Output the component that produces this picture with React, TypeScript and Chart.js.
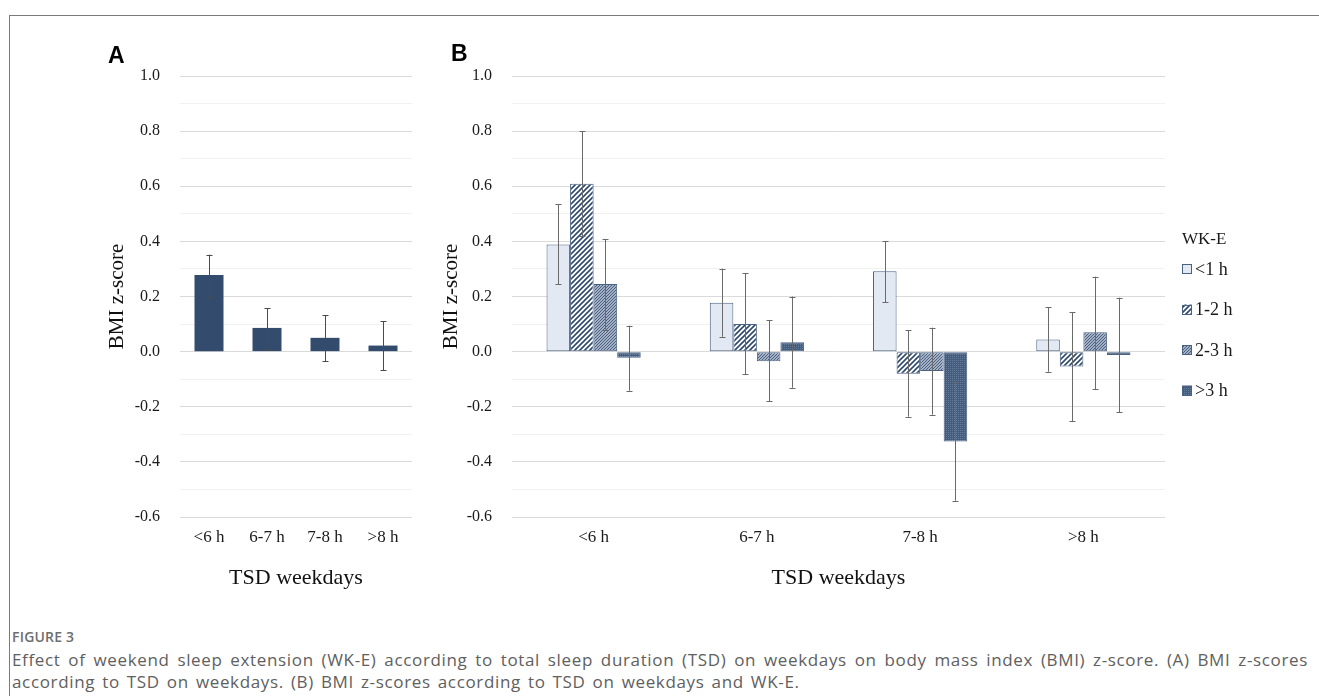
import React, { useEffect, useRef } from 'react';
import { Chart, registerables } from 'chart.js';

Chart.register(...registerables);

// ---------- data ----------
const categories = ['<6 h', '6-7 h', '7-8 h', '>8 h'];

const panelAValues = [0.278, 0.086, 0.05, 0.022];
const panelALow = [0.2, 0.01, -0.035, -0.068];
const panelAHigh = [0.352, 0.157, 0.132, 0.111];

const wkeLabels = ['<1 h', '1-2 h', '2-3 h', '>3 h'];

const wkeLt1Values = [0.389, 0.177, 0.292, 0.044];
const wkeLt1Low = [0.245, 0.054, 0.18, -0.073];
const wkeLt1High = [0.534, 0.301, 0.4, 0.161];

const wke12Values = [0.609, 0.1, -0.08, -0.054];
const wke12Low = [0.419, -0.081, -0.236, -0.252];
const wke12High = [0.8, 0.285, 0.077, 0.142];

const wke23Values = [0.245, -0.035, -0.07, 0.07];
const wke23Low = [0.08, -0.18, -0.229, -0.136];
const wke23High = [0.409, 0.114, 0.087, 0.272];

const wkeGt3Values = [-0.022, 0.034, -0.326, -0.012];
const wkeGt3Low = [-0.142, -0.131, -0.541, -0.22];
const wkeGt3High = [0.094, 0.2, -0.109, 0.196];

const yMin = -0.6;
const yMax = 1.0;

const SERIF = '"Liberation Serif", "Times New Roman", serif';

// ---------- patterns ----------
function makeTile(size: number, draw: (c: CanvasRenderingContext2D) => void) {
  const cv = document.createElement('canvas');
  cv.width = size;
  cv.height = size;
  const c = cv.getContext('2d') as CanvasRenderingContext2D;
  draw(c);
  const ctx = document.createElement('canvas').getContext('2d') as CanvasRenderingContext2D;
  return ctx.createPattern(cv, 'repeat') as CanvasPattern;
}

function makeFills() {
  const light = '#e3e9f2';
  const stripes = makeTile(5, (c) => {
    c.fillStyle = '#ffffff';
    c.fillRect(0, 0, 5, 5);
    c.strokeStyle = '#2f4a6d';
    c.lineWidth = 1.6;
    c.beginPath();
    c.moveTo(-1, 6);
    c.lineTo(6, -1);
    c.moveTo(-1, 1);
    c.lineTo(1, -1);
    c.moveTo(4, 6);
    c.lineTo(6, 4);
    c.stroke();
  });
  const fine = makeTile(3, (c) => {
    c.fillStyle = '#a3b0c4';
    c.fillRect(0, 0, 3, 3);
    c.fillStyle = '#4c6285';
    c.fillRect(0, 2, 1, 1);
    c.fillRect(1, 1, 1, 1);
    c.fillRect(2, 0, 1, 1);
  });
  const dotted = makeTile(2, (c) => {
    c.fillStyle = '#445c7e';
    c.fillRect(0, 0, 2, 2);
    c.fillStyle = '#667c9b';
    c.fillRect(0, 0, 1, 1);
  });
  return [light, stripes, fine, dotted];
}

// ---------- plugins ----------
const errorBarPlugin = {
  id: 'errorBars',
  afterDatasetsDraw(chart: any, _args: any, opts: any) {
    const { ctx } = chart;
    const yScale = chart.scales.y;
    const lows: number[][] = opts.low || [];
    const highs: number[][] = opts.high || [];
    ctx.save();
    ctx.strokeStyle = opts.color || '#555';
    ctx.lineWidth = 1;
    chart.data.datasets.forEach((_ds: any, di: number) => {
      const meta = chart.getDatasetMeta(di);
      meta.data.forEach((el: any, i: number) => {
        const lo = lows[di]?.[i];
        const hi = highs[di]?.[i];
        if (lo === undefined || hi === undefined) return;
        const x = Math.round(el.x) + 0.5;
        const y1 = yScale.getPixelForValue(lo);
        const y2 = yScale.getPixelForValue(hi);
        const cap = 3;
        ctx.beginPath();
        ctx.moveTo(x, y1);
        ctx.lineTo(x, y2);
        ctx.moveTo(x - cap, Math.round(y1) + 0.5);
        ctx.lineTo(x + cap, Math.round(y1) + 0.5);
        ctx.moveTo(x - cap, Math.round(y2) + 0.5);
        ctx.lineTo(x + cap, Math.round(y2) + 0.5);
        ctx.stroke();
      });
    });
    ctx.restore();
  },
};

const customLegendPlugin = {
  id: 'customLegend',
  afterDraw(chart: any, _args: any, opts: any) {
    if (!opts || !opts.show) return;
    const { ctx } = chart;
    ctx.save();
    ctx.font = `17px ${SERIF}`;
    ctx.fillStyle = '#1a1a1a';
    ctx.textBaseline = 'middle';
    ctx.textAlign = 'left';
    ctx.fillText(opts.title, opts.x, opts.y);
    ctx.font = `18px ${SERIF}`;
    chart.data.datasets.forEach((ds: any, i: number) => {
      const cy = opts.y + opts.first + i * opts.gap;
      const s = 10;
      ctx.fillStyle = ds.backgroundColor;
      ctx.fillRect(opts.x, cy - s / 2, s, s);
      ctx.strokeStyle = ds.borderColor;
      ctx.lineWidth = 1;
      ctx.strokeRect(opts.x + 0.5, Math.round(cy - s / 2) + 0.5, s - 1, s - 1);
      ctx.fillStyle = '#1a1a1a';
      ctx.fillText(ds.label, opts.x + s + 3, cy + 1);
    });
    ctx.restore();
  },
};

function isMajor(v: number) {
  return Math.abs(Math.round(v * 10)) % 2 === 0;
}

function makeScales(yWidth: number, yTitlePad: number) {
  return {
    x: {
      afterFit: (s: any) => {
        s.height = 83;
      },
      grid: { display: false, drawTicks: false },
      border: { display: false },
      ticks: { padding: 10, color: '#1a1a1a', font: { family: SERIF, size: 17 } },
      title: {
        display: true,
        text: 'TSD weekdays',
        color: '#111',
        font: { family: SERIF, size: 22 },
        padding: { top: 0, bottom: 9 },
      },
    },
    y: {
      min: yMin,
      max: yMax,
      afterFit: (s: any) => {
        s.width = yWidth;
      },
      border: { display: false },
      grid: {
        drawTicks: false,
        lineWidth: 1,
        color: (c: any) => (c.tick && isMajor(c.tick.value) ? '#dadada' : '#f1f1f1'),
      },
      ticks: {
        stepSize: 0.1,
        autoSkip: false,
        padding: 20,
        color: '#1a1a1a',
        font: { family: SERIF, size: 16 },
        callback: (v: any) => (isMajor(Number(v)) ? Number(v).toFixed(1) : ''),
      },
      title: {
        display: true,
        text: 'BMI z-score',
        color: '#111',
        font: { family: SERIF, size: 21 },
        padding: { top: yTitlePad, bottom: 0 },
      },
    },
  };
}

export default function App() {
  const refA = useRef<HTMLCanvasElement | null>(null);
  const refB = useRef<HTMLCanvasElement | null>(null);

  useEffect(() => {
    document.body.style.margin = '0';
    const fills = makeFills();
    const borderB = '#4a6282';

    const chartA = new Chart(refA.current as HTMLCanvasElement, {
      type: 'bar',
      data: {
        labels: categories,
        datasets: [
          {
            label: 'BMI z-score',
            data: panelAValues,
            backgroundColor: '#334c6d',
            borderColor: '#334c6d',
            borderWidth: 0,
            categoryPercentage: 0.5,
            barPercentage: 1.0,
          },
        ],
      },
      options: {
        animation: false,
        responsive: false,
        devicePixelRatio: 1,
        layout: { padding: { top: 76, right: 8, left: 0, bottom: 0 } },
        scales: makeScales(180, 105) as any,
        plugins: {
          legend: { display: false },
          tooltip: { enabled: false },
          errorBars: { low: [panelALow], high: [panelAHigh], color: '#4a4a4a' },
        } as any,
      },
      plugins: [errorBarPlugin],
    });

    const seriesValues = [wkeLt1Values, wke12Values, wke23Values, wkeGt3Values];
    const chartB = new Chart(refB.current as HTMLCanvasElement, {
      type: 'bar',
      data: {
        labels: categories,
        datasets: wkeLabels.map((lab, i) => ({
          label: lab,
          data: seriesValues[i],
          backgroundColor: fills[i] as any,
          borderColor: borderB,
          borderWidth: 1,
          borderSkipped: false,
          categoryPercentage: 0.577,
          barPercentage: 1.0,
        })),
      },
      options: {
        animation: false,
        responsive: false,
        devicePixelRatio: 1,
        layout: { padding: { top: 76, right: 154, left: 0, bottom: 0 } },
        scales: makeScales(92, 19) as any,
        plugins: {
          legend: { display: false },
          tooltip: { enabled: false },
          errorBars: {
            low: [wkeLt1Low, wke12Low, wke23Low, wkeGt3Low],
            high: [wkeLt1High, wke12High, wke23High, wkeGt3High],
            color: '#6a6a6a',
          },
          customLegend: { show: true, title: 'WK-E', x: 762, y: 240, first: 29, gap: 40.5 },
        } as any,
      },
      plugins: [errorBarPlugin, customLegendPlugin],
    });

    return () => {
      chartA.destroy();
      chartB.destroy();
    };
  }, []);

  const captionFont = '"Open Sans", "Noto Sans", sans-serif';

  return (
    <div
      style={{
        position: 'absolute',
        left: 0,
        top: 0,
        width: 1319,
        height: 696,
        overflow: 'hidden',
        background: '#fff',
      }}
    >
      <div
        style={{
          position: 'absolute',
          left: 9,
          top: 15,
          width: 1320,
          height: 700,
          borderTop: '1px solid #7a7a7a',
          borderLeft: '1px solid #7a7a7a',
        }}
      />
      <canvas
        ref={refA}
        width={420}
        height={600}
        style={{ position: 'absolute', left: 0, top: 0, width: 420, height: 600 }}
      />
      <canvas
        ref={refB}
        width={899}
        height={600}
        style={{ position: 'absolute', left: 420, top: 0, width: 899, height: 600 }}
      />
      <div
        style={{
          position: 'absolute',
          left: 108,
          top: 40,
          fontFamily: '"Liberation Sans", Arial, sans-serif',
          fontWeight: 700,
          fontSize: 23,
          lineHeight: '30px',
          color: '#000',
        }}
      >
        A
      </div>
      <div
        style={{
          position: 'absolute',
          left: 451,
          top: 38,
          fontFamily: '"Liberation Sans", Arial, sans-serif',
          fontWeight: 700,
          fontSize: 23,
          lineHeight: '30px',
          color: '#000',
        }}
      >
        B
      </div>
      <div
        style={{
          position: 'absolute',
          left: 12,
          top: 628,
          fontFamily: captionFont,
          fontWeight: 600,
          fontSize: 14,
          lineHeight: '18px',
          color: '#6e6e6e',
          letterSpacing: 0.2,
        }}
      >
        FIGURE 3
      </div>
      <div
        style={{
          position: 'absolute',
          left: 12,
          top: 649,
          width: 1296,
          fontFamily: captionFont,
          fontSize: 17,
          lineHeight: '22px',
          letterSpacing: 0.65,
          color: '#606060',
          textAlign: 'justify',
          textAlignLast: 'justify' as any,
          whiteSpace: 'nowrap',
        }}
      >
        Effect of weekend sleep extension (WK-E) according to total sleep duration (TSD) on weekdays on body mass index (BMI) z-score. (A) BMI z-scores
      </div>
      <div
        style={{
          position: 'absolute',
          left: 12,
          top: 671,
          fontFamily: captionFont,
          fontSize: 17,
          lineHeight: '22px',
          letterSpacing: 0.65,
          wordSpacing: 2,
          color: '#606060',
          whiteSpace: 'nowrap',
        }}
      >
        according to TSD on weekdays. (B) BMI z-scores according to TSD on weekdays and WK-E.
      </div>
    </div>
  );
}
